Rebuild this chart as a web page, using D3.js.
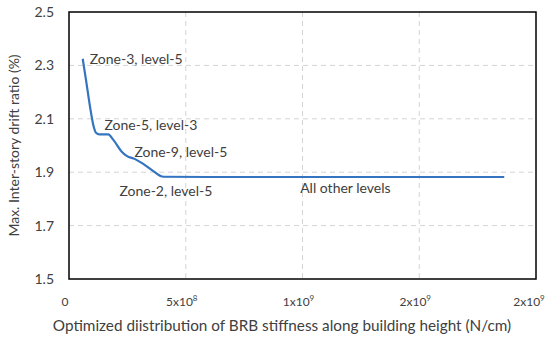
<!DOCTYPE html>
<html>
<head>
<meta charset="utf-8">
<script src="https://cdn.jsdelivr.net/npm/d3@7"></script>
<style>
  body { margin: 0; background: #fff; }
  text { font-family: Lato, "Open Sans", sans-serif; fill: #404040; }
</style>
</head>
<body>
<div id="chart"></div>
<script>
// stiffness (N/cm) and max drift ratio (%)
var stiffness = [5.87e7, 7.28e7, 8.99e7, 1.04e8, 1.156e8, 1.30e8, 1.68e8, 1.90e8, 2.26e8, 2.47e8, 2.83e8, 3.18e8, 3.61e8, 4.04e8, 6.0e8, 1.0e9, 1.5e9, 1.864e9];
var drift = [2.325, 2.246, 2.146, 2.077, 2.048, 2.042, 2.042, 2.021, 1.977, 1.961, 1.949, 1.931, 1.904, 1.883, 1.882, 1.882, 1.882, 1.882];

var yTicks = [1.5, 1.7, 1.9, 2.1, 2.3, 2.5];
var xTicks = [0, 5e8, 1e9, 1.5e9, 2e9];
var xTickBase = ["0", "5x10", "1x10", "2x10", "2x10"];
var xTickExp = ["", "8", "9", "9", "9"];

var labels = ["Zone-3, level-5", "Zone-5, level-3", "Zone-9, level-5", "Zone-2, level-5", "All other levels"];
var labelX = [8.9e7, 1.52e8, 2.80e8, 2.16e8, 9.9e8];
var labelY = [2.325, 2.075, 1.975, 1.83, 1.84];

var w = 550, h = 340;
var mLeft = 69, mRight = 536, mTop = 12, mBottom = 279;

var svg = d3.select("#chart").append("svg")
  .attr("width", w)
  .attr("height", h);

var x = d3.scaleLinear().domain([0, 2e9]).range([mLeft, mRight]);
var y = d3.scaleLinear().domain([1.5, 2.5]).range([mBottom, mTop]);

// grid
svg.selectAll(".gy")
  .data(yTicks.slice(1, -1))
  .enter().append("line")
  .attr("x1", mLeft).attr("x2", mRight)
  .attr("y1", function(d) { return y(d); })
  .attr("y2", function(d) { return y(d); })
  .style("stroke", "#d4d4d4")
  .style("stroke-dasharray", "5,4");

svg.selectAll(".gx")
  .data(xTicks.slice(1, -1))
  .enter().append("line")
  .attr("y1", mTop).attr("y2", mBottom)
  .attr("x1", function(d) { return x(d); })
  .attr("x2", function(d) { return x(d); })
  .style("stroke", "#d4d4d4")
  .style("stroke-dasharray", "5,4");

// frame
svg.append("rect")
  .attr("x", mLeft).attr("y", mTop)
  .attr("width", mRight - mLeft).attr("height", mBottom - mTop)
  .style("fill", "none")
  .style("stroke", "#000")
  .style("stroke-width", 1.5);

// y tick labels
svg.selectAll(".yt")
  .data(yTicks)
  .enter().append("text")
  .attr("x", 54)
  .attr("y", function(d) { return y(d); })
  .attr("dy", "0.35em")
  .attr("text-anchor", "end")
  .style("font-size", "14px")
  .text(function(d) { return d3.format(".1f")(d); });

// x tick labels (excel shifts them a little left of the gridline)
var xt = svg.selectAll(".xt")
  .data(xTicks)
  .enter().append("text")
  .attr("x", function(d, i) { return x(d) - (i == xTicks.length - 1 ? 7 : 4); })
  .attr("y", 306)
  .attr("text-anchor", "middle")
  .style("font-size", "12px");
xt.append("tspan").text(function(d, i) { return xTickBase[i]; });
xt.append("tspan")
  .attr("dy", -5)
  .style("font-size", "8px")
  .text(function(d, i) { return xTickExp[i]; });

// curve
var line = d3.line()
  .x(function(d) { return x(d[0]); })
  .y(function(d) { return y(d[1]); })
  .curve(d3.curveMonotoneX);

svg.append("path")
  .datum(d3.zip(stiffness, drift))
  .attr("d", line)
  .style("fill", "none")
  .style("stroke", "#3474c0")
  .style("stroke-width", 2.2);

// annotations
svg.selectAll(".lab")
  .data(labels)
  .enter().append("text")
  .attr("x", function(d, i) { return x(labelX[i]); })
  .attr("y", function(d, i) { return y(labelY[i]); })
  .attr("dy", "0.35em")
  .style("font-size", "14px")
  .text(function(d) { return d; });

// axis titles
svg.append("text")
  .attr("transform", "translate(19," + ((mTop + mBottom) / 2) + ") rotate(-90)")
  .attr("text-anchor", "middle")
  .style("font-size", "14px")
  .text("Max. Inter-story drift ratio (%)");

svg.append("text")
  .attr("x", 282)
  .attr("y", 331)
  .attr("text-anchor", "middle")
  .style("font-size", "15.3px")
  .text("Optimized diistribution of BRB stiffness along building height (N/cm)");
</script>
</body>
</html>
